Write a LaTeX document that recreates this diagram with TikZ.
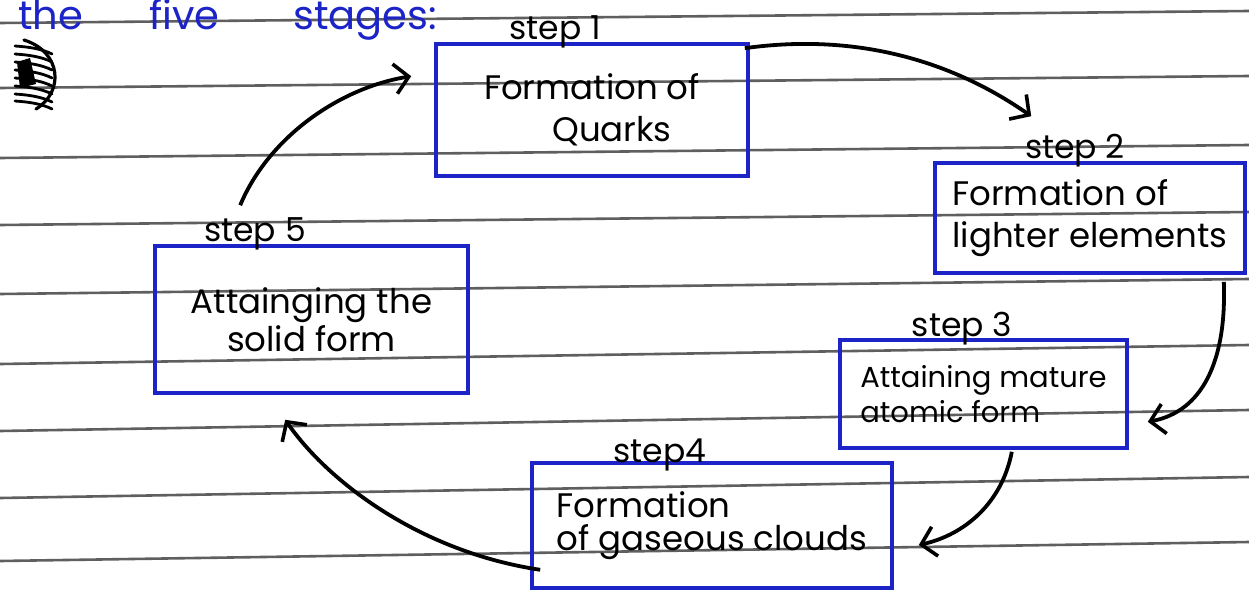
\documentclass[tikz,border=0pt]{standalone}
\usepackage{fontspec}
\setmainfont{Poppins}
\usetikzlibrary{arrows.meta}
\definecolor{inkblue}{RGB}{28,36,200}
\definecolor{rule}{RGB}{95,95,95}
\tikzset{
  stagebox/.style={draw=inkblue, line width=3.6pt, inner sep=0pt,
    font=\fontsize{34}{42}\selectfont},
  steplbl/.style={anchor=base, inner sep=0pt, font=\fontsize{33}{34}\selectfont},
  flow/.style={line width=3.8pt, -{Straight Barb[length=14pt,width=30pt,line width=3.6pt]}},
  ruled/.style={rule, line width=2.6pt}
}
\begin{document}
\begin{tikzpicture}[x=1pt,y=-1pt]
\useasboundingbox (0,0) rectangle (1249,599);
\fill[white] (0,0) rectangle (1249,599);
% ruled lines of the paper
\foreach \l/\r in {23/11,88/76,158/145,225/212,294/279,364/345,431/410,498/477,561/542}
  \draw[ruled] (0,\l) -- (1249,\r);
% heading
\node[anchor=base west, inner sep=0pt, text=inkblue, font=\fontsize{40}{42}\selectfont] (head) at (18,30)
  {the\hspace{66pt}five\hspace{74pt}stages:};
% doodle at the left
\draw[line width=3.2pt, line cap=round] (24,40) .. controls (62,52) and (64,92) .. (36,109);
\foreach \y in {46,54,62,70,78,86,94,101}
  \draw[line width=2.8pt, line cap=round] (15,\y) .. controls (30,\y+1) and (42,\y+3) .. (52,\y+8);
\fill (17,62) -- (30,58) -- (36,84) -- (20,88) -- cycle;
% boxes
\node[stagebox, minimum width=312pt, minimum height=132pt, align=center] (b1) at (592,110)
  {Formation of\\\hspace{40pt}Quarks};
\node[stagebox, minimum width=310pt, minimum height=110pt, align=left] (b2) at (1090,218)
  {Formation of\\lighter elements};
\node[stagebox, minimum width=287pt, minimum height=108pt, align=left,
  font=\fontsize{29}{35}\selectfont] (b3) at (983.5,394)
  {Attaining mature\\atomic form};
\node[stagebox, minimum width=360pt, minimum height=125pt, align=left,
  font=\fontsize{34}{33}\selectfont] (b4) at (712,525.5)
  {Formation\\of gaseous clouds};
\node[stagebox, minimum width=313pt, minimum height=147pt, align=center,
  font=\fontsize{34}{38}\selectfont] (b5) at (311.5,319.5)
  {Attainging the\\solid form};
% step labels
\node[steplbl] (s1) at (555,40) {step 1};
\node[steplbl] (s2) at (1075,158) {step 2};
\node[steplbl] (s3) at (962,336) {step 3};
\node[steplbl] (s4) at (660,462) {step4};
\node[steplbl] (s5) at (255,241) {step 5};
% connectors
\draw[flow] ([shift={(-5,6)}]b1.north east) .. controls +(107,-15) and +(-83,-58) .. ([shift={(98,-45)}]b2.north west);
\draw[flow] ([shift={(-23,7)}]b2.south east) .. controls +(3,80) and +(54,-10) .. ([shift={(19,-28)}]b3.south east);
\draw[flow] ([shift={(-117,2)}]b3.south east) .. controls +(-10,52) and +(45,-10) .. ([shift={(25,19.5)}]b4.east);
\draw[flow] ([shift={(10,-20)}]b4.south west) .. controls +(-120,-18) and +(43,62) .. ([shift={(132,25)}]b5.south west);
\draw[flow] ([shift={(87,-39)}]b5.north west) .. controls +(28,-67) and +(-73,12) .. ([shift={(-23,34)}]b1.north west);
\end{tikzpicture}
\end{document}
